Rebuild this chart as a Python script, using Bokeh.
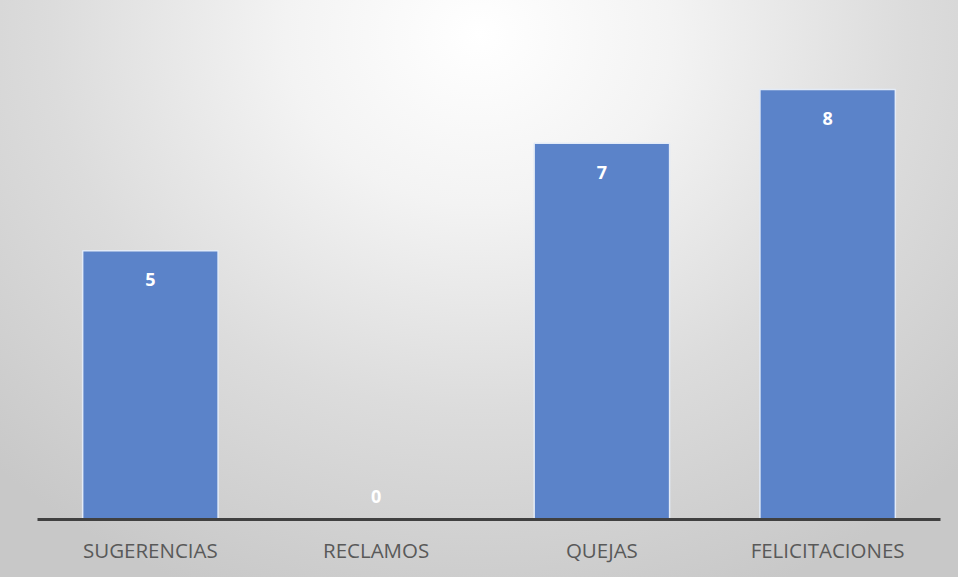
from bokeh.plotting import figure
from bokeh.models import ColumnDataSource, Range1d
from bokeh.embed import file_html
from bokeh.resources import INLINE
from bokeh.core.properties import value

categories = ["SUGERENCIAS", "RECLAMOS", "QUEJAS", "FELICITACIONES"]
counts = [5, 0, 7, 8]

labels = [str(v) for v in counts]
offsets = [29 if v > 0 else -23 for v in counts]

src = ColumnDataSource(dict(cat=categories, val=counts, lab=labels, off=offsets))

p = figure(x_range=categories, y_range=Range1d(0, 9.656),
           width=958, height=577, output_backend="svg", toolbar_location=None,
           min_border_left=37, min_border_right=18, min_border_top=0, min_border_bottom=58)
p.x_range.range_padding = 0
p.background_fill_color = None
p.border_fill_color = None
p.outline_line_color = None
p.styles = {"background": "radial-gradient(ellipse 72% 105% at 50% 6%, #ffffff 0%, #f3f3f3 28%, #dcdcdc 62%, #c8c8c8 100%)"}

p.vbar(x="cat", top="val", width=0.6, source=src, fill_color="#5B83C9",
       line_color="#e3ebf7", line_width=1.5)

p.text(x="cat", y="val", text="lab", source=src, y_offset="off",
       text_align="center", text_baseline="middle", text_color="white",
       text_font=value("Open Sans"), text_font_style="bold", text_font_size="18px")

p.yaxis.visible = False
p.grid.visible = False
p.xaxis.axis_line_color = "#404040"
p.xaxis.axis_line_width = 3
p.xaxis.major_tick_line_color = None
p.xaxis.minor_tick_line_color = None
p.xaxis.major_label_text_color = "#595959"
p.xaxis.major_label_text_font = "Open Sans"
p.xaxis.major_label_text_font_size = "20.5px"
p.xaxis.major_label_standoff = 10

open("out.html", "w").write(file_html(p, INLINE))
